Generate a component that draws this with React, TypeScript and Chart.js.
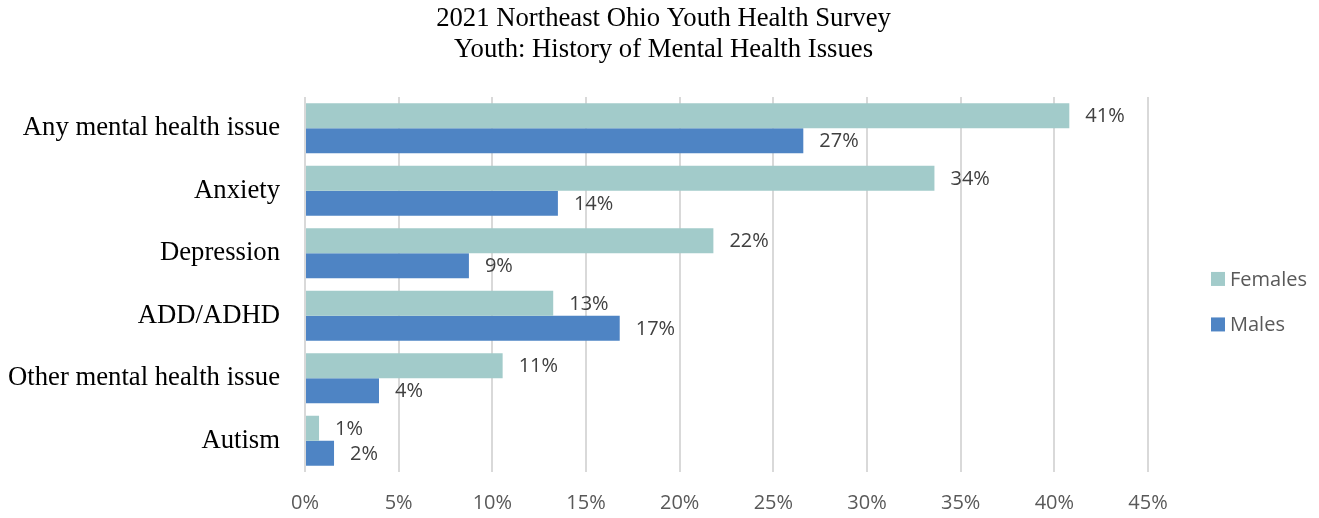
import React, { useEffect, useRef } from "react";
import { Chart, registerables, layouts } from "chart.js";

Chart.register(...registerables);

const titleLines = ["2021 Northeast Ohio Youth Health Survey", "Youth: History of Mental Health Issues"];
const categories = ["Any mental health issue", "Anxiety", "Depression", "ADD/ADHD", "Other mental health issue", "Autism"];
const seriesNames = ["Females", "Males"];
const femaleValues = [40.8, 33.6, 21.8, 13.25, 10.55, 0.75];
const maleValues = [26.6, 13.5, 8.75, 16.8, 3.95, 1.55];
const xTicks = [0, 5, 10, 15, 20, 25, 30, 35, 40, 45];
const colors = ["#a2cbca", "#4e84c4"];

const SANS = "'Open Sans', sans-serif";
const SERIF = "'Liberation Serif', 'Times New Roman', serif";

const valueLabels = {
  id: "valueLabels",
  afterDatasetsDraw(chart: any) {
    const ctx = chart.ctx;
    ctx.save();
    ctx.font = `20px ${SANS}`;
    ctx.fillStyle = "#404040";
    ctx.textAlign = "left";
    ctx.textBaseline = "middle";
    chart.data.datasets.forEach((ds: any, di: number) => {
      const meta = chart.getDatasetMeta(di);
      meta.data.forEach((bar: any, i: number) => {
        const v = ds.data[i];
        ctx.fillText(Math.round(v) + "%", bar.x + 16, bar.y + 1);
      });
    });
    ctx.restore();
  },
};

const sideLegend = {
  id: "sideLegend",
  beforeInit(chart: any) {
    const box: any = {
      position: "right",
      weight: 1000,
      fullSize: false,
      options: {},
      left: 0,
      top: 0,
      right: 0,
      bottom: 0,
      width: 0,
      height: 0,
      isHorizontal() {
        return false;
      },
      update(_w: number, maxH: number) {
        this.width = 171;
        this.height = maxH;
      },
      getPadding() {
        return { left: 0, right: 0, top: 0, bottom: 0 };
      },
      draw() {},
    };
    layouts.addBox(chart, box);
    chart.$sideLegendBox = box;
  },
  afterDraw(chart: any) {
    const box = chart.$sideLegendBox;
    const ctx = chart.ctx;
    ctx.save();
    ctx.font = `20px ${SANS}`;
    ctx.textBaseline = "middle";
    ctx.textAlign = "left";
    const x = box.left + 63;
    const y0 = chart.chartArea.top + 182;
    chart.data.datasets.forEach((ds: any, di: number) => {
      const y = y0 + di * 45.5;
      ctx.fillStyle = ds.backgroundColor;
      ctx.fillRect(x, y - 7, 14, 14);
      ctx.fillStyle = "#595959";
      ctx.fillText(ds.label, x + 19, y + 1);
    });
    ctx.restore();
  },
};

export default function App() {
  const ref = useRef<HTMLCanvasElement>(null);
  useEffect(() => {
    document.body.style.margin = "0";
    const chart = new Chart(ref.current!, {
      type: "bar",
      data: {
        labels: categories,
        datasets: [
          { label: seriesNames[0], data: femaleValues, backgroundColor: colors[0], categoryPercentage: 0.8, barPercentage: 1.0 },
          { label: seriesNames[1], data: maleValues, backgroundColor: colors[1], categoryPercentage: 0.8, barPercentage: 1.0 },
        ],
      },
      options: {
        indexAxis: "y",
        animation: false,
        responsive: false,
        maintainAspectRatio: false,
        layout: { padding: { left: 8, right: 0, top: 0, bottom: 0 } },
        plugins: {
          legend: { display: false },
          tooltip: { enabled: false },
          title: {
            display: true,
            text: titleLines,
            color: "#000000",
            font: { family: SERIF, size: 26.7, weight: "normal", lineHeight: 1.16 },
            padding: { top: 3.5, bottom: 31.5 },
          },
        },
        scales: {
          x: {
            min: 0,
            max: 45,
            afterBuildTicks: (scale: any) => {
              scale.ticks = xTicks.map((v) => ({ value: v }));
            },
            afterFit: (scale: any) => {
              scale.height = 46;
            },
            ticks: {
              color: "#595959",
              font: { family: SANS, size: 20 },
              padding: 19,
              callback: (v: any) => v + "%",
            },
            grid: { color: "#d9d9d9", lineWidth: 2, drawTicks: false },
            border: { display: false },
          },
          y: {
            afterFit: (scale: any) => {
              scale.width = 297;
            },
            ticks: {
              color: "#000000",
              font: { family: SERIF, size: 26.7 },
              padding: 25,
            },
            grid: { display: false, drawTicks: false },
            border: { display: false },
          },
        },
      },
      plugins: [valueLabels, sideLegend],
    });
    return () => chart.destroy();
  }, []);
  return <canvas ref={ref} width={1319} height={518} style={{ display: "block" }} />;
}
